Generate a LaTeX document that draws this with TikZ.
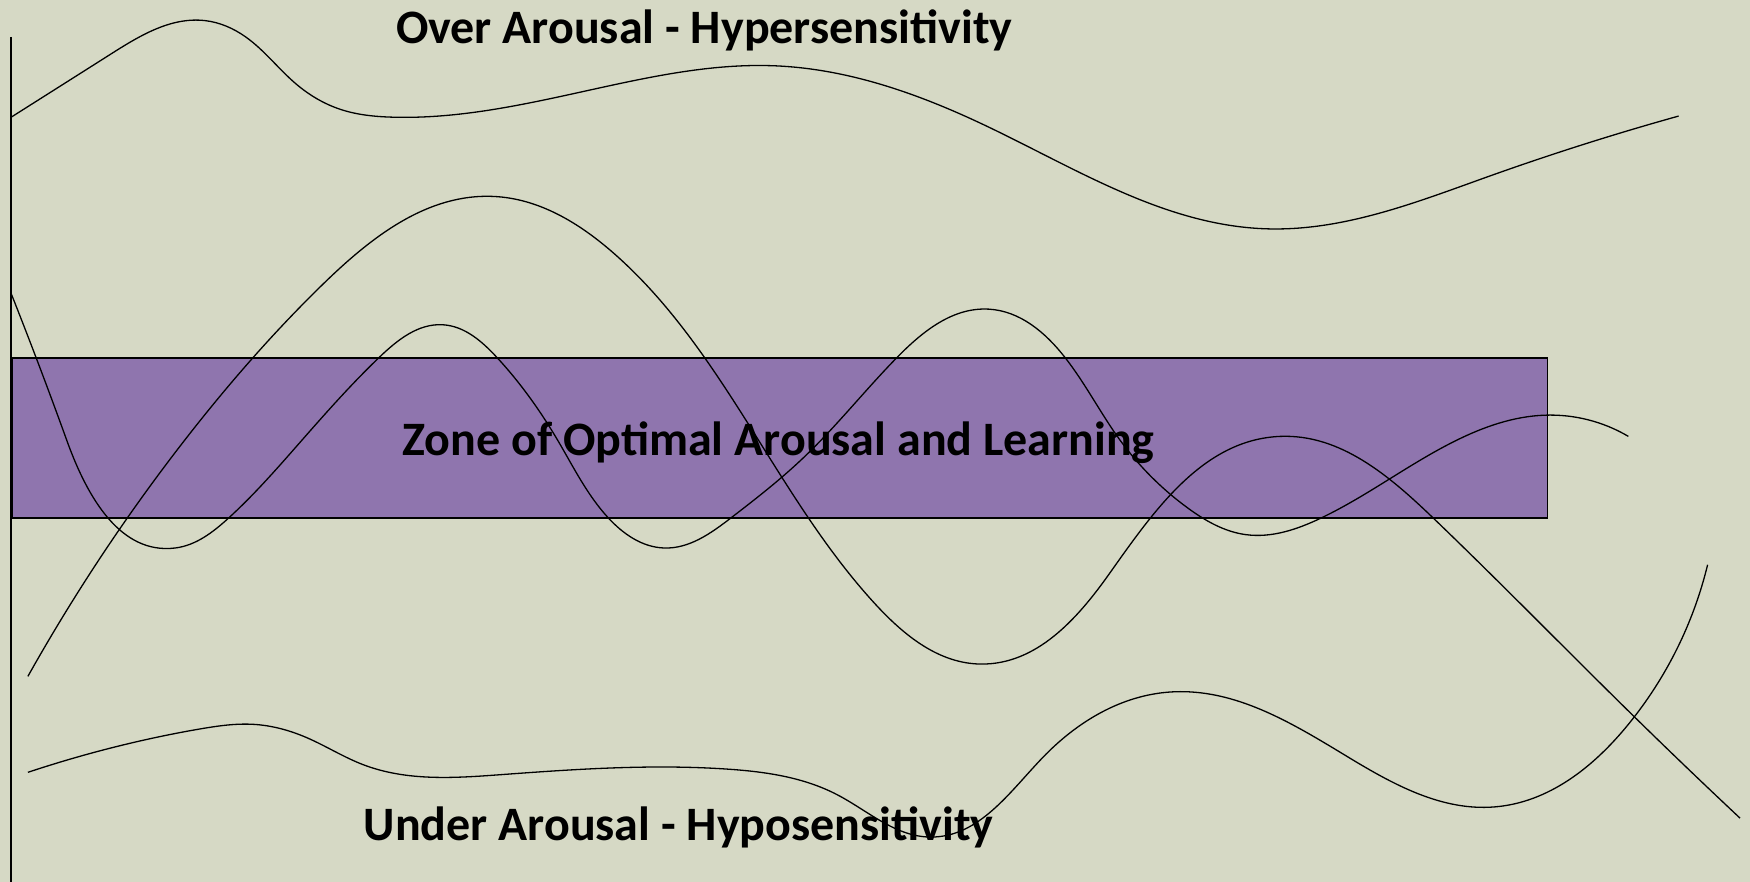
\documentclass[tikz,border=0pt]{standalone}
\usepackage{fontspec}
\setmainfont{Carlito}
\usepackage{xcolor}
\usetikzlibrary{positioning, calc, hobby}

\definecolor{bgolive}{RGB}{214,217,197}
\definecolor{zonepurple}{RGB}{143,117,174}

\begin{document}
\begin{tikzpicture}[x=0.558pt, y=-0.558pt, curve/.style={black, line width=0.65pt}, zonetext/.style={font=\bfseries\fontsize{24}{28}\selectfont, inner sep=0pt, anchor=base}]
        % Background
        \fill[bgolive] (0,0) rectangle (1568,790);
        \useasboundingbox (0,0) rectangle (1568,790);

        % Zone box
        \node (Zone) [draw, line width=0.75pt, fill=zonepurple, minimum width=1376*0.558pt, minimum height=143.5*0.558pt, anchor=north west, inner sep=0pt] at (10,320) {};

        % Axis
        \coordinate (AxisTop) at (10,33);
        \coordinate (AxisBot) at (10,790);
        \draw[line width=1pt] (AxisTop) -- (AxisBot);

        % Curves
        \draw[curve] (10,105) to[curve through={(100,48) (184,18.5) (220,33) (265,75) (305,98) (352,105) (550,76) (695,59) (884,113) (1134,205) (1334,158)}] (1504,104);
        \draw[curve] (25,606) to[curve through={(165,395) (290,254) (442,176) (550,227) (680,395) (784,541) (879,595) (994,514) (1147,391) (1284,464) (1459,637)}] (1559,733);
        \draw[curve] (10,263) to[curve through={(60,395) (157,491) (205,464) (270,395) (340,320) (397,291) (445,320) (500,395) (545,464) (595,491) (655,464) (720,410) (804,320) (886,277) (954,320) (1004,395) (1064,455) (1116,479) (1184,464) (1304,395) (1384,372)}] (1459,391);
        \draw[curve] (25,692) to[curve through={(125,664) (180,653) (227,649) (275,661) (325,685) (450,694) (650,689) (750,712) (834,750) (934,679) (1049,620) (1209,679) (1339,723) (1459,649)}] (1530,506);

        % Labels
        \node (Over) [zonetext] at (631,38.8) {Over Arousal - Hypersensitivity};
        \node (ZoneText) [zonetext] at (697.5,408) {Zone of Optimal Arousal and Learning};
        \node (Under) [zonetext] at (608,753) {Under Arousal - Hyposensitivity};
    \end{tikzpicture}
\end{document}
